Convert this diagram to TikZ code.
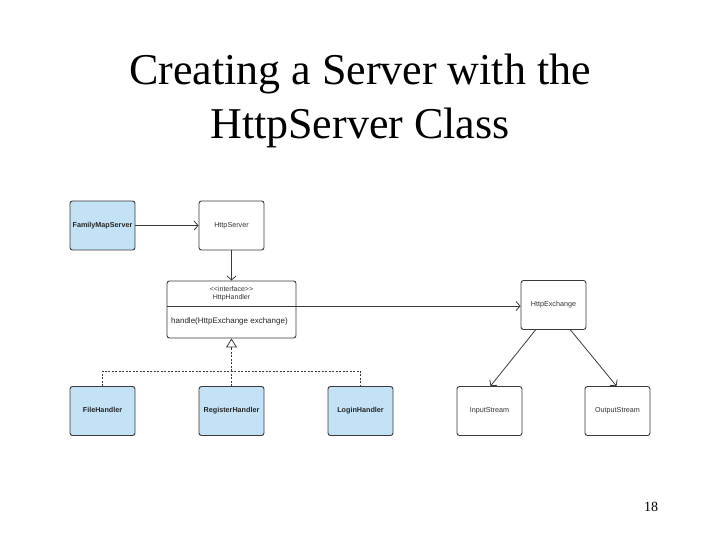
\documentclass[tikz,border=0pt]{standalone}
\usepackage{fontspec}
\setmainfont{Liberation Serif}
\newfontfamily\boxfont{Liberation Sans}
\usetikzlibrary{arrows.meta}
\definecolor{boxblue}{HTML}{C4E2F5}
\definecolor{boxline}{HTML}{3A3A3A}
\tikzset{
  cls/.style={draw=boxline, line width=0.9pt, rounded corners=2.5pt, minimum width=65pt, minimum height=49pt, inner sep=0pt, text height=5.2pt, text depth=1.5pt, font=\boxfont\fontsize{7.2}{9}\selectfont, text=black!80},
  bluecls/.style={cls, fill=boxblue, font=\boxfont\bfseries\fontsize{7.2}{9}\selectfont, text=black!85},
  conn/.style={draw=boxline, line width=0.8pt, -{Straight Barb[length=4pt,width=9pt]}},
  real/.style={draw=boxline, line width=0.8pt, dashed, dash pattern=on 2pt off 1.5pt},
  title/.style={font=\fontsize{44}{52}\selectfont, anchor=base}
}
\begin{document}
\begin{tikzpicture}[x=1pt,y=-1pt]
\useasboundingbox (0,0) rectangle (720,540);
\node[title] (t1) at (360,85) {Creating a Server with the};
\node[title] (t2) at (360,139) {HttpServer Class};

\node[bluecls] (fms) at (102.5,225.5) {FamilyMapServer};
\node[cls] (hs) at (231.5,225.5) {HttpServer};

\node[draw=boxline, line width=0.9pt, rounded corners=2.5pt, minimum width=129pt, minimum height=57pt] (hh) at (231.5,309.5) {};
\draw[draw=boxline, line width=0.8pt] (hh.west |- 0,306) coordinate (dl) -- (hh.east |- 0,306) coordinate (dr);
\node[font=\boxfont\fontsize{7}{8.5}\selectfont, text=black!80, align=center, inner sep=0pt] (hhh) at (231.5,293.5) {<<interface>>\\HttpHandler};
\node[font=\boxfont\fontsize{8}{9.5}\selectfont, text=black!85, anchor=west, inner sep=0pt] (hm) at (171,321.5) {handle(HttpExchange exchange)};

\node[cls] (hx) at (553.5,305) {HttpExchange};
\node[bluecls] (fh) at (102.5,411) {FileHandler};
\node[bluecls] (rh) at (231.5,411) {RegisterHandler};
\node[bluecls] (lh) at (360.5,411) {LoginHandler};
\node[cls] (is) at (489.5,411) {InputStream};
\node[cls] (os) at (617.5,411) {OutputStream};

\node[font=\fontsize{14}{16}\selectfont, anchor=base] (pg) at (651,511) {18};

\draw[conn] (fms) -- (hs);
\draw[conn] (hs) -- (hh);
\draw[conn] (dr) -- (hx.west |- dr);
\draw[conn] ([xshift=-18pt]hx.south) -- ([xshift=1pt]is.north);
\draw[conn] ([xshift=17pt]hx.south) -- ([xshift=-1pt]os.north);

\coordinate (jn) at (231.5,371);
\coordinate (tb) at (231.5,348);
\draw[real] (fh.north) |- (jn) -| (lh.north);
\draw[real] (rh.north) -- (jn);
\draw[real] (jn) -- (tb);
\draw[draw=boxline, line width=0.8pt, -{Triangle[open,length=9pt,width=11pt]}] (tb) -- (hh.south);
\end{tikzpicture}
\end{document}
